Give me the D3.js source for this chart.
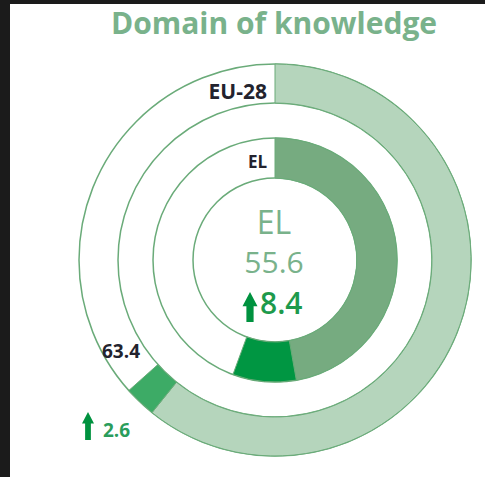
<html>
<head>
<style>
  body { margin: 0; background: #fff; }
  text { font-family: "Open Sans", sans-serif; }
</style>
<script src="https://d3js.org/d3.v7.min.js"></script>
</head>
<body>
<svg id="chart" width="485" height="477"></svg>
<script>
// data
var rings   = ["EU-28", "EL"];        // outer, inner
var totals  = [63.4, 55.6];           // score
var changes = [2.6, 8.4];             // increase
var title   = "Domain of knowledge";

var svg = d3.select("#chart");
var cx = 275, cy = 260;

// dark stone border (left + top)
svg.append("rect").attr("x", 0).attr("y", 0).attr("width", 485).attr("height", 477).attr("fill", "#fff");
svg.append("rect").attr("x", 0).attr("y", 0).attr("width", 10).attr("height", 477).attr("fill", "#1b1b1b");
svg.append("rect").attr("x", 0).attr("y", 0).attr("width", 485).attr("height", 4).attr("fill", "#1b1b1b");

svg.append("text")
  .attr("x", 274).attr("y", 34)
  .attr("text-anchor", "middle")
  .attr("font-size", 30).attr("font-weight", 700)
  .attr("fill", "#79b28b")
  .text(title);

var angle = d3.scaleLinear().domain([0, 100]).range([0, 2 * Math.PI]);
var radii = [[157, 196], [82, 122]];
var baseFill = ["#b5d5bc", "#76ab80"];
var incFill  = ["#3dab66", "#009642"];
var line = "#6aab79";

var g = svg.append("g").attr("transform", "translate(" + cx + "," + cy + ")");

// outline circles
radii.forEach(function(r) {
  r.forEach(function(rr) {
    g.append("circle").attr("r", rr).attr("fill", "none")
      .attr("stroke", line).attr("stroke-width", 1.5);
  });
});

var labelSize = [21, 17];
rings.forEach(function(name, i) {
  var arc = d3.arc().innerRadius(radii[i][0]).outerRadius(radii[i][1]);
  var base = totals[i] - changes[i];
  g.append("path")
    .attr("d", arc({ startAngle: angle(0), endAngle: angle(base) }))
    .attr("fill", baseFill[i]).attr("stroke", line).attr("stroke-width", 1);
  g.append("path")
    .attr("d", arc({ startAngle: angle(base), endAngle: angle(totals[i]) }))
    .attr("fill", incFill[i]).attr("stroke", line).attr("stroke-width", 1);
  g.append("text")
    .attr("x", -8).attr("y", i === 0 ? -161 : -92)
    .attr("text-anchor", "end")
    .attr("font-size", labelSize[i]).attr("font-weight", 700)
    .attr("fill", "#23232e")
    .text(name);
});

function upArrow(x, yTop, w, h) {
  var hw = w / 2, head = w * 0.95, sw = w * 0.24;
  var p = d3.path();
  p.moveTo(x, yTop);
  p.lineTo(x + hw, yTop + head);
  p.lineTo(x + sw, yTop + head);
  p.lineTo(x + sw, yTop + h);
  p.lineTo(x - sw, yTop + h);
  p.lineTo(x - sw, yTop + head);
  p.lineTo(x - hw, yTop + head);
  p.closePath();
  return p.toString();
}

// centre text (inner ring = EL)
svg.append("text").attr("x", cx - 1).attr("y", 234).attr("text-anchor", "middle")
  .attr("font-size", 32).attr("fill", "#79b28b").text(rings[1]);
svg.append("text").attr("x", cx - 1).attr("y", 273).attr("text-anchor", "middle")
  .attr("font-size", 30).attr("fill", "#79b28b").text(totals[1].toFixed(1));
svg.append("path").attr("d", upArrow(250, 292, 15, 30)).attr("fill", "#00923f");
svg.append("text").attr("x", 260).attr("y", 314)
  .attr("font-size", 30).attr("font-weight", 600).attr("fill", "#1d9a4c")
  .text(changes[1].toFixed(1));

// outer ring (EU-28) value + change
svg.append("text").attr("x", 102).attr("y", 358)
  .attr("font-size", 19).attr("font-weight", 700).attr("fill", "#23232e")
  .text(totals[0].toFixed(1));
svg.append("path").attr("d", upArrow(88, 412, 12, 28)).attr("fill", "#00923f");
svg.append("text").attr("x", 103).attr("y", 437)
  .attr("font-size", 19).attr("font-weight", 700).attr("fill", "#2a9d5c")
  .text(changes[0].toFixed(1));
</script>
</body>
</html>
